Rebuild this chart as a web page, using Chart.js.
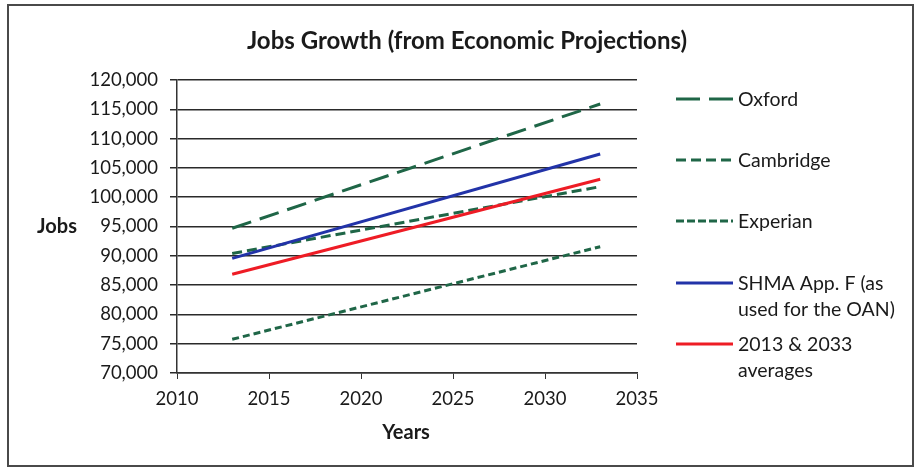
<!DOCTYPE html>
<html>
<head>
    <title>Jobs Growth</title>
    <style>
        * { margin: 0; padding: 0; box-sizing: border-box; }
        body { background: #fff; width: 914px; height: 470px; overflow: hidden; }
        canvas { display: block; }
    </style>
</head>
<body>
    <canvas id="jobsChart" width="914" height="470"></canvas>
    <script src="https://cdn.jsdelivr.net/npm/chart.js"></script>
    <script>
        // Dados
        var years = [2013, 2033];
        var oxford = [94700, 115900];
        var cambridge = [90400, 101800];
        var experian = [75750, 91550];
        var shma = [89570, 107370];
        var averages = [86840, 103050];

        var xTicks = [2010, 2015, 2020, 2025, 2030, 2035];

        var FONT = 'Lato, "Open Sans", sans-serif';
        var GREEN = '#1f6647';

        function pts(vals) {
            return years.map(function (y, i) { return { x: y, y: vals[i] }; });
        }

        // Legenda, títulos e moldura desenhados à mão
        var extras = {
            id: 'extras',
            afterDraw: function (chart) {
                var ctx = chart.ctx;
                ctx.save();
                ctx.strokeStyle = '#4a4a4a';
                ctx.lineWidth = 2;
                ctx.strokeRect(8, 5, 905, 461);

                ctx.fillStyle = '#1a1a1a';
                ctx.textAlign = 'center';
                ctx.textBaseline = 'middle';
                ctx.font = 'bold 24px ' + FONT;
                ctx.fillText('Jobs Growth (from Economic Projections)', 467, 41);
                ctx.font = 'bold 20px ' + FONT;
                ctx.fillText('Jobs', 57, 227);
                ctx.fillText('Years', 406, 433);

                var entries = [
                    { ds: 0, lines: ['Oxford'], y: 99 },
                    { ds: 1, lines: ['Cambridge'], y: 160 },
                    { ds: 2, lines: ['Experian'], y: 221 },
                    { ds: 3, lines: ['SHMA App. F (as', 'used for the OAN)'], y: 283 },
                    { ds: 4, lines: ['2013 & 2033', 'averages'], y: 344 }
                ];
                ctx.textAlign = 'left';
                ctx.font = '19.5px ' + FONT;
                entries.forEach(function (e) {
                    var ds = chart.data.datasets[e.ds];
                    ctx.beginPath();
                    ctx.strokeStyle = ds.borderColor;
                    ctx.lineWidth = 3;
                    ctx.setLineDash(ds.legendDash || []);
                    ctx.moveTo(676, e.y);
                    ctx.lineTo(733, e.y);
                    ctx.stroke();
                    ctx.setLineDash([]);
                    ctx.fillStyle = '#1a1a1a';
                    e.lines.forEach(function (t, k) {
                        ctx.fillText(t, 738, e.y + 1 + k * 26);
                    });
                });
                ctx.restore();
            }
        };

        var ctx = document.getElementById('jobsChart').getContext('2d');
        var chart = new Chart(ctx, {
            type: 'line',
            data: {
                datasets: [
                    { label: 'Oxford', data: pts(oxford), borderColor: GREEN, borderDash: [20, 9], legendDash: [24, 9], order: 2 },
                    { label: 'Cambridge', data: pts(cambridge), borderColor: GREEN, borderDash: [10, 5], legendDash: [10, 5], order: 2 },
                    { label: 'Experian', data: pts(experian), borderColor: GREEN, borderDash: [7, 4], legendDash: [8, 3], order: 2 },
                    { label: 'SHMA App. F (as used for the OAN)', data: pts(shma), borderColor: '#2233a8', order: 1 },
                    { label: '2013 & 2033 averages', data: pts(averages), borderColor: '#ee1c25', order: 0 }
                ]
            },
            options: {
                responsive: false,
                animation: false,
                devicePixelRatio: 1,
                elements: {
                    line: { borderWidth: 3, tension: 0 },
                    point: { radius: 0 }
                },
                layout: { padding: { left: 0, top: 80, right: 277, bottom: 0 } },
                plugins: {
                    legend: { display: false },
                    title: { display: false },
                    tooltip: { enabled: false }
                },
                scales: {
                    x: {
                        type: 'linear',
                        min: 2010,
                        max: 2035,
                        afterBuildTicks: function (s) { s.ticks = xTicks.map(function (v) { return { value: v }; }); },
                        afterFit: function (s) { s.height = 97; },
                        grid: { drawOnChartArea: false, drawTicks: true, tickLength: 6, color: '#333' },
                        border: { color: '#333', width: 1.5 },
                        ticks: {
                            color: '#1a1a1a', font: { family: FONT, size: 18.5 }, padding: 9, maxRotation: 0,
                            callback: function (v) { return String(v); }
                        }
                    },
                    y: {
                        min: 70000,
                        max: 120000,
                        afterFit: function (s) { s.width = 177; },
                        grid: { color: '#2a2a2a', lineWidth: 1.5, drawTicks: true, tickLength: 7 },
                        border: { color: '#333', width: 1.5 },
                        ticks: {
                            stepSize: 5000,
                            color: '#1a1a1a',
                            font: { family: FONT, size: 18.5 },
                            padding: 12,
                            callback: function (v) { return v.toLocaleString('en-US'); }
                        }
                    }
                }
            },
            plugins: [extras]
        });
    </script>
</body>
</html>
